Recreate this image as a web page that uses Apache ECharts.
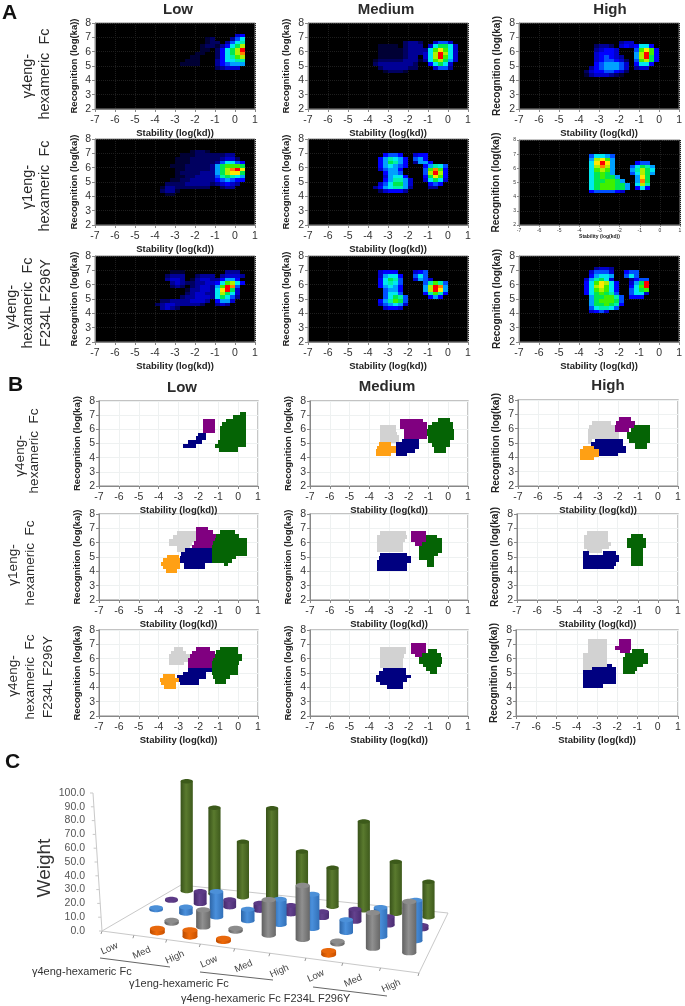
<!DOCTYPE html>
<html><head><meta charset="utf-8">
<style>html,body{margin:0;padding:0;background:#fff}#c{width:685px;height:1006px;filter:blur(0.45px)}</style>
<script src="https://cdn.jsdelivr.net/npm/echarts@6/dist/echarts.min.js"></script>
</head><body><div id="c"></div>
<script>
// ---------- tick labels / names ----------
const stabilityTicks = [-7,-6,-5,-4,-3,-2,-1,0,1];
const recognitionTicks = [2,3,4,5,6,7,8];
const stabilityName = 'Stability (log(kd))';
const recognitionName = 'Recognition (log(ka))';
const weightTicks = [0,10,20,30,40,50,60,70,80,90,100];
const doseCategories = ['Low','Med','High','Low','Med','High','Low','Med','High'];

// ---------- panel A: density cells, 0.25 x 0.25 log units: [lower y, first x, levels 0-f] ----------
const densityG4Low = [
[7,0,'45'],[6.75,-.25,'368'],[6.5,-.5,'3689'],[6.25,-.75,'358ac'],[6,-1,'258acf'],[5.75,-1,'258ace'],[5.5,-1,'2589bc'],[5.25,-1,'358899'],[5,-1,'356777'],[4.75,-1,'23444'],
[6.75,-1.5,'12'],[6.5,-1.5,'122'],[6.25,-1.75,'1221'],[6,-1.75,'11'],[5.75,-2,'11'],[5.5,-2.25,'11'],[5.25,-2.5,'111'],[5,-2.75,'1111']];
const densityG4Med = [
[6.5,-.75,'4664'],[6.25,-1,'48aa84'],[6,-1.25,'38bdb84'],[5.75,-1.25,'48cfc84'],[5.5,-1.25,'48cfb84'],[5.25,-1.25,'38bca74'],[5,-1,'58a84'],[4.75,-.75,'4663'],
[6.5,-2.25,'2332'],[6.25,-3.5,'1111'],[6.25,-2.25,'2333'],[6,-3.5,'111112333'],[5.75,-3.5,'111112333'],[5.5,-3.5,'11111233'],[5.25,-3.75,'1222223331'],[5,-3.75,'233333332'],[4.75,-3.5,'23333322'],[4.5,-3.25,'12221']];
const densityG4High = [
[6.5,-2,'344'],[6.25,-3.25,'2332'],[6.25,-2,'454'],[6.25,-1.25,'5885'],[6,-1.25,'6bdb5'],[5.75,-1.25,'7cfb5'],[5.5,-1.25,'7cfa5'],[5.25,-1.25,'6bca5'],[5,-1.25,'5885'],[4.75,-1.25,'344'],
[6,-3.25,'34554'],[5.75,-3.25,'45554'],[5.5,-3.25,'456543'],[5.25,-3.25,'4566542'],[5,-3.25,'5677764'],[4.75,-3.5,'35677764'],[4.5,-3.75,'245566542'],[4.25,-3.75,'13444321']];
const densityG1Low = [
[6.75,-.75,'233'],[6.5,-1,'23442'],[6.25,-1,'368865'],[6,-1.25,'37abbba'],[5.75,-1.25,'37acefd'],[5.5,-1.25,'37acdda'],[5.25,-1.25,'369a987'],[5,-1.25,'3567655'],[4.75,-1,'34543'],[4.5,-.75,'233'],
[7,-2.25,'1221'],[6.75,-2.75,'11122222'],[6.5,-3,'11122222'],[6.25,-3,'11122222'],[6,-3.25,'11122222'],[5.75,-3,'1122222'],[5.5,-3,'1222233'],[5.25,-3,'1122333'],[5,-3.25,'11223333'],[4.75,-3.5,'2222333332'],[4.5,-3.75,'1332222222'],[4.25,-3.75,'2331'],[4,-3.5,'11']];
const densityG1Med = [
[6.75,-3.25,'5665'],[6.5,-3.5,'579875'],[6.25,-3.5,'57a975'],[6,-3.5,'578765'],[5.75,-3.5,'46775'],[5.5,-3.25,'5776'],[5.25,-3.25,'47885'],[5,-3.25,'579974'],[4.75,-3.5,'468aa74'],[4.5,-3.75,'35789973'],[4.25,-3.5,'245553'],
[6.75,-1.75,'455'],[6.5,-1.75,'675'],[6.25,-1.75,'3775'],[6,-1.25,'57986'],[5.75,-1.25,'6beb5'],[5.5,-1.25,'6cfc5'],[5.25,-1.25,'5adb5'],[5,-1.25,'48a84'],[4.75,-1,'565'],[4.5,-1,'33']];
const densityG1High = [
[6.75,-3.5,'68876'],[6.5,-3.5,'7cdb7'],[6.25,-3.5,'8dfd7'],[6,-3.5,'8cec7'],[5.75,-3.5,'8bcb7'],[5.5,-3.5,'8aba7'],[5.25,-3.5,'8abaa7'],[5,-3.5,'8aabba7'],[4.75,-3.5,'8abbbaa7'],[4.5,-3.5,'8abbbaa7'],[4.25,-3.5,'5666654'],
[6.25,-1.25,'566'],[6,-1.5,'68a97'],[5.75,-1.5,'79ca8'],[5.5,-1.5,'68ca7'],[5.25,-1.25,'7da'],[5,-1.25,'7ea'],[4.75,-1.25,'8c9'],[4.5,-1.25,'585']];
const densityF234Low = [
[6.75,-.5,'333'],[6.5,-.75,'34443'],[6.25,-1,'25775'],[6,-1,'58bc85'],[5.75,-1.25,'37bfe6'],[5.5,-1.25,'48dfa4'],[5.25,-1.25,'48ca84'],[5,-1.25,'48a863'],[4.75,-1,'5774'],[4.5,-1,'343'],
[6.75,-3.25,'111'],[6.5,-3.5,'2333'],[6.5,-2,'2333'],[6.25,-3.5,'3443'],[6.25,-2.25,'134433'],[6,-3.25,'3432'],[6,-2.25,'23344'],[5.75,-3.25,'232'],[5.75,-2.25,'23443'],[5.5,-2.5,'133443'],[5.25,-2.5,'234433'],[5,-2.75,'2334443'],[4.75,-3.75,'2233334443'],[4.5,-4,'2344333332'],[4.25,-3.75,'3432']];
const densityF234Med = [
[6.75,-3.5,'4555'],[6.5,-3.5,'47885'],[6.25,-3.5,'58a96'],[6,-3.5,'58986'],[5.75,-3.5,'57875'],[5.5,-3.25,'6775'],[5.25,-3.25,'6886'],[5,-3.25,'68a96'],[4.75,-3.5,'579ba6'],[4.5,-3.5,'467874'],[4.25,-3.25,'4554'],
[6.75,-1.75,'456'],[6.5,-1.75,'686'],[6.25,-1.75,'4764'],[6,-1.25,'69b96'],[5.75,-1.25,'7cfe7'],[5.5,-1.25,'7cfd7'],[5.25,-1.25,'59b95'],[5,-1,'575']];
const densityF234High = [
[7,-3.25,'3443'],[6.75,-3.5,'46664'],[6.5,-3.5,'57887'],[6.25,-3.75,'479a84'],[6,-3.75,'58bdc85'],[5.75,-3.75,'58cdb85'],[5.5,-3.75,'58bcb85'],[5.25,-3.75,'58aba96'],[5,-3.5,'7aabb96'],[4.75,-3.5,'7abbba6'],[4.5,-3.5,'7aaba95'],[4.25,-3.5,'689986'],[4,-3.5,'4564'],
[6.75,-1.75,'566'],[6.5,-1.75,'686'],[6.25,-1.5,'3566'],[6,-1.5,'47af'],[5.75,-1.5,'58bf'],[5.5,-1.5,'68ab'],[5.25,-1.5,'6884'],[5,-1.5,'555']];

// ---------- panel B: cluster runs: [lower y, x from, x to, cluster] ----------
const GREY=0, PURPLE=1, NAVY=2, ORANGE=3, GREEN=4;
const clustersG4Low = [
[5.75,-1.75,-1.15,PURPLE],[6,-1.75,-1.15,PURPLE],[6.25,-1.75,-1.15,PURPLE],[6.5,-1.75,-1.15,PURPLE],
[5.5,-2,-1.6,NAVY],[5.25,-2.1,-1.6,NAVY],[5,-2.5,-1.8,NAVY],[4.7,-2.75,-2.1,NAVY],
[7,.1,.4,GREEN],[6.75,-.27,.4,GREEN],[6.5,-.6,.4,GREEN],[6.25,-.8,.4,GREEN],[6,-.93,.4,GREEN],[5.75,-.93,.4,GREEN],[5.5,-.93,.4,GREEN],[5.25,-.93,.4,GREEN],[5,-1,.4,GREEN],[4.75,-1.18,.4,GREEN],[4.65,-1.18,-.02,GREEN],[4.4,-.97,-.02,GREEN]];
const clustersG4Med = [
[6.07,-3.47,-2.67,GREY],[5.82,-3.47,-2.67,GREY],[5.57,-3.47,-2.6,GREY],[5.32,-3.47,-2.47,GREY],[5.07,-3.47,-2.5,GREY],
[6.5,-2.45,-1.3,PURPLE],[6.25,-2.45,-1.1,PURPLE],[6,-2.45,-1.1,PURPLE],[5.75,-2.25,-1.1,PURPLE],[5.5,-2.25,-1.1,PURPLE],[5.33,-2.25,-1.1,PURPLE],
[5.08,-2.33,-1.5,NAVY],[4.83,-2.67,-1.5,NAVY],[4.58,-2.83,-1.5,NAVY],[4.33,-2.67,-1.67,NAVY],[4.1,-2.67,-2.08,NAVY],
[4.83,-3.5,-2.9,ORANGE],[4.58,-3.6,-2.67,ORANGE],[4.33,-3.67,-2.67,ORANGE],[4.1,-3.67,-2.9,ORANGE],
[6.53,-.5,.08,GREEN],[6.28,-.83,.25,GREEN],[6.03,-1.05,.25,GREEN],[5.78,-1.08,.28,GREEN],[5.53,-1.08,.28,GREEN],[5.28,-1.05,.28,GREEN],[5.03,-1.05,.08,GREEN],[4.78,-.83,.08,GREEN],[4.53,-.7,-.12,GREEN],[4.33,-.7,-.12,GREEN]];
const clustersG4High = [
[6.25,-3.3,-2.35,GREY],[6,-3.43,-2.14,GREY],[5.75,-3.52,-2,GREY],[5.5,-3.52,-1.97,GREY],[5.25,-3.52,-1.97,GREY],[5,-3.52,-3.3,GREY],[4.9,-3.52,-3.3,GREY],
[6.53,-1.94,-1.36,PURPLE],[6.28,-2.1,-1.16,PURPLE],[6.03,-2.14,-1.16,PURPLE],[5.8,-2.14,-1.44,PURPLE],
[5.05,-3.14,-1.77,NAVY],[4.8,-3.35,-1.77,NAVY],[4.55,-3.2,-1.6,NAVY],[4.3,-2.97,-1.6,NAVY],[4.1,-2.93,-2,NAVY],
[4.55,-3.77,-3.2,ORANGE],[4.3,-3.88,-2.97,ORANGE],[4.05,-3.9,-2.97,ORANGE],[3.82,-3.9,-3.2,ORANGE],
[6.02,-1.2,-.4,GREEN],[5.77,-1.37,-.4,GREEN],[5.52,-1.53,-.4,GREEN],[5.27,-1.57,-.4,GREEN],[5.02,-1.45,-.4,GREEN],[4.77,-1.16,-.53,GREEN],[4.56,-1.16,-.53,GREEN]];
const clustersG1Low = [
[6.53,-3.1,-2.1,GREY],[6.28,-3.28,-2.1,GREY],[6.03,-3.48,-2.1,GREY],[5.78,-3.48,-2.3,GREY],[5.53,-3.1,-2.4,GREY],[5.38,-3.1,-2.4,GREY],
[6.85,-2.1,-1.5,PURPLE],[6.6,-2.1,-1.25,PURPLE],[6.35,-2.1,-.93,PURPLE],[6.1,-2.1,-1.1,PURPLE],[5.85,-2.2,-1.2,PURPLE],[5.6,-2.3,-1.25,PURPLE],
[5.35,-2.65,-1.3,NAVY],[5.1,-2.85,-1.3,NAVY],[4.85,-2.9,-1.3,NAVY],[4.6,-2.9,-1.3,NAVY],[4.35,-2.7,-1.68,NAVY],[4.15,-2.7,-1.68,NAVY],
[4.9,-3.6,-2.95,ORANGE],[4.65,-3.76,-2.9,ORANGE],[4.4,-3.86,-2.9,ORANGE],[4.15,-3.76,-2.9,ORANGE],[3.9,-3.65,-3.1,ORANGE],
[6.6,-.9,-.17,GREEN],[6.35,-1.1,.05,GREEN],[6.1,-1.18,.47,GREEN],[5.85,-1.26,.47,GREEN],[5.6,-1.3,.47,GREEN],[5.35,-1.3,.47,GREEN],[5.1,-1.3,.47,GREEN],[4.85,-1.3,-.12,GREEN],[4.6,-1.3,-.33,GREEN],[4.35,-.72,-.5,GREEN]];
const clustersG1Med = [
[6.53,-3.45,-2.12,GREY],[6.28,-3.63,-2.1,GREY],[6.03,-3.63,-2.2,GREY],[5.78,-3.63,-2.28,GREY],[5.53,-3.63,-2.28,GREY],[5.33,-3.63,-2.28,GREY],
[6.55,-1.88,-1.12,PURPLE],[6.3,-1.88,-1.12,PURPLE],[6.05,-1.88,-1.12,PURPLE],[5.8,-1.67,-1.33,PURPLE],
[5.05,-3.45,-2.1,NAVY],[4.8,-3.5,-1.88,NAVY],[4.55,-3.63,-1.88,NAVY],[4.3,-3.63,-2.1,NAVY],[4.05,-3.63,-2.1,NAVY],
[6.3,-1.12,-.55,GREEN],[6.05,-1.12,-.32,GREEN],[5.8,-1.33,-.32,GREEN],[5.55,-1.5,-.32,GREEN],[5.3,-1.47,-.32,GREEN],[5.05,-1.47,-.5,GREEN],[4.8,-1.47,-.72,GREEN],[4.55,-1.08,-.72,GREEN],[4.3,-1.08,-.72,GREEN]];
const clustersG1High = [
[6.55,-3.5,-2.5,GREY],[6.3,-3.68,-2.5,GREY],[6.05,-3.68,-2.5,GREY],[5.8,-3.68,-2.32,GREY],[5.55,-3.68,-2.43,GREY],[5.3,-3.5,-2.77,GREY],
[5.15,-3.7,-3.4,NAVY],[5.15,-2.75,-2.1,NAVY],[4.9,-3.7,-1.95,NAVY],[4.65,-3.7,-1.95,NAVY],[4.4,-3.7,-2.1,NAVY],[4.15,-3.7,-2.2,NAVY],
[6.35,-1.33,-.73,GREEN],[6.1,-1.53,-.57,GREEN],[5.85,-1.53,-.57,GREEN],[5.6,-1.53,-.57,GREEN],[5.35,-1.33,-.73,GREEN],[5.1,-1.33,-.73,GREEN],[4.85,-1.33,-.73,GREEN],[4.6,-1.33,-.73,GREEN],[4.4,-1.33,-.73,GREEN]];
const clustersF234Low = [
[6.55,-3.24,-2.77,GREY],[6.3,-3.4,-2.6,GREY],[6.05,-3.5,-2.3,GREY],[5.8,-3.5,-2.5,GREY],[5.55,-3.5,-2.7,GREY],
[6.55,-2.13,-1.4,PURPLE],[6.3,-2.3,-1.18,PURPLE],[6.05,-2.43,-1.1,PURPLE],[5.8,-2.5,-1.1,PURPLE],[5.55,-2.5,-1.26,PURPLE],[5.3,-2.5,-1.33,PURPLE],
[5.1,-2.5,-1.33,NAVY],[4.85,-2.77,-1.6,NAVY],[4.6,-3.1,-1.6,NAVY],[4.35,-3.1,-1.97,NAVY],[4.15,-2.9,-1.97,NAVY],
[4.65,-3.78,-3.2,ORANGE],[4.4,-3.95,-2.95,ORANGE],[4.15,-3.9,-3.15,ORANGE],[3.9,-3.75,-3.14,ORANGE],
[6.58,-.93,0,GREEN],[6.33,-1.1,0,GREEN],[6.08,-1.18,.2,GREEN],[5.83,-1.26,.2,GREEN],[5.58,-1.3,.05,GREEN],[5.33,-1.3,0,GREEN],[5.08,-1.33,0,GREEN],[4.83,-1.33,0,GREEN],[4.58,-1.26,-.4,GREEN],[4.33,-1.18,-.6,GREEN],[4.2,-1.18,-.6,GREEN]];
const clustersF234Med = [
[6.58,-3.47,-2.13,GREY],[6.33,-3.47,-2.13,GREY],[6.08,-3.47,-2.25,GREY],[5.83,-3.47,-2.3,GREY],[5.58,-3.47,-2.3,GREY],[5.38,-3.47,-2.3,GREY],
[6.85,-1.88,-1.15,PURPLE],[6.6,-1.88,-1.15,PURPLE],[6.35,-1.88,-1.15,PURPLE],[6.13,-1.67,-1.33,PURPLE],
[5.13,-3.28,-2.13,NAVY],[4.88,-3.5,-2.12,NAVY],[4.63,-3.67,-1.9,NAVY],[4.38,-3.67,-2.08,NAVY],[4.13,-3.45,-2.28,NAVY],[3.9,-3.1,-2.3,NAVY],
[6.4,-1.05,-.58,GREEN],[6.15,-1.33,-.37,GREEN],[5.9,-1.5,-.33,GREEN],[5.65,-1.5,-.33,GREEN],[5.4,-1.28,-.37,GREEN],[5.15,-1.12,-.55,GREEN],[4.9,-.92,-.58,GREEN]];
const clustersF234High = [
[7.12,-3.43,-2.5,GREY],[6.87,-3.43,-2.5,GREY],[6.62,-3.43,-2.5,GREY],[6.37,-3.43,-2.5,GREY],[6.12,-3.68,-2.5,GREY],[5.87,-3.68,-2.5,GREY],[5.62,-3.68,-2.5,GREY],[5.37,-3.68,-2.5,GREY],[5.2,-3.68,-2.5,GREY],
[7.12,-1.9,-1.3,PURPLE],[6.87,-1.9,-1.3,PURPLE],[6.62,-2.1,-1.3,PURPLE],[6.37,-1.86,-1.36,PURPLE],
[5.41,-2.53,-2.27,NAVY],[5.16,-3.27,-2.06,NAVY],[4.95,-3.68,-2.06,NAVY],[4.7,-3.68,-2.06,NAVY],[4.45,-3.68,-2.06,NAVY],[4.2,-3.68,-2.06,NAVY],[3.95,-3.68,-2.7,NAVY],
[6.4,-1.28,-.7,GREEN],[6.15,-1.6,-.5,GREEN],[5.9,-1.7,-.5,GREEN],[5.65,-1.7,-.5,GREEN],[5.4,-1.7,-.73,GREEN],[5.15,-1.7,-1.03,GREEN],[4.9,-1.7,-1.1,GREEN]];

// ---------- panel C: weights, one value per dose category (0 = no cylinder) ----------
const weightOrange = [0,3,5,2,0,0,3,0,0];
const weightGrey   = [0,2,13,2,27,41,2,27,39];
const weightBlue   = [1.5,5,20,9,20,27,10,23,32];
const weightPurple = [1,10,6,6,7,5,10,7,3];
const weightGreen  = [93,73,47,78,44,33,75,44,30];

// ---------- styling ----------
const FONT = '"Liberation Sans", Arial, sans-serif';
const densityPalette = ['#000','#000034','#000060','#000096','#0000cc','#0000ff','#0050ff','#00a0ff','#00e8f0','#00f0a8','#00e850','#40f000','#b0f000','#ffe800','#ff8000','#ff0000'];
const clusterPalette = ['#d2d2d2','#800080','#000080','#ffa014','#056405'];
const cylinderPalette = {
  orange:{side:['#b84a00','#f06a08','#c85000'],top:'#e8680c'},
  grey:{side:['#606060','#909090','#686868'],top:'#8c8c8c'},
  blue:{side:['#2d66a8','#4a90dc','#3270b8'],top:'#4c90d8'},
  purple:{side:['#44286a','#64428e','#4a2c72'],top:'#5c3a86'},
  green:{side:['#38521a','#5a7a2e','#3e5a1c'],top:'#3c5a1a'}
};
// Panel rectangles: [left, right, top, bottom]
const panelRects = [
 [95,255,23,109],[308,468,23,109],[519,680,23,109],
 [95,255,139,225],[308,468,139,225],[519,680,140,225],
 [95,255,256,342],[308,468,256,342],[519,680,256,342],
 [99,258,401,486],[310,468,401,486],[518,678,400,486],
 [99,258,514,600],[310,468,514,600],[517,678,514,600],
 [99,258,630,716],[310,468,630,716],[516,678,630,716]
];
const densityPanels = [densityG4Low,densityG4Med,densityG4High,densityG1Low,densityG1Med,densityG1High,densityF234Low,densityF234Med,densityF234High];
const clusterPanels = [clustersG4Low,clustersG4Med,clustersG4High,clustersG1Low,clustersG1Med,clustersG1High,clustersF234Low,clustersF234Med,clustersF234High];

const CELL = 0.25;
function expandDensity(triples){
  const out=[];
  triples.forEach(([y,x,s])=>{
    for(let i=0;i<s.length;i++){
      const lv=parseInt(s[i],16);
      if(lv>0) out.push([x+i*CELL,x+(i+1)*CELL,y,lv]);
    }
  });
  return out;
}
function cellRender(isDensity){
  return function(params,api){
    const x0=api.value(0),x1=api.value(1),y=api.value(2),k=api.value(3);
    const a=api.coord([x0,y+CELL]),b=api.coord([x1,y]);
    const l=Math.round(a[0]),t=Math.round(a[1]),r=Math.round(b[0]),bt=Math.round(b[1]);
    return {type:'rect',shape:{x:l,y:t,width:r-l,height:bt-t},
      style:{fill:(isDensity?densityPalette:clusterPalette)[k]}};
  };
}

const grids=[],xAxes=[],yAxes=[],series=[];
panelRects.forEach((r,i)=>{
  const dark=i<9, tiny=i===5;
  const fs=tiny?5:10.5;
  const nameFs=tiny?5:9.5;
  grids.push({left:r[0],top:r[2],width:r[1]-r[0],height:r[3]-r[2],show:true,
    backgroundColor:dark?'#000':'#fff',borderColor:dark?'#888':'#b0b0b0',borderWidth:dark?1:1.4});
  const line={show:true,lineStyle:{color:'#888',width:1}};
  xAxes.push({type:'value',gridIndex:i,min:stabilityTicks[0],max:stabilityTicks[stabilityTicks.length-1],interval:1,
    name:stabilityName,nameLocation:'middle',nameGap:tiny?8:19,
    nameTextStyle:{fontFamily:FONT,fontWeight:'bold',fontSize:nameFs,color:'#222'},
    axisLine:{...line,onZero:false},axisTick:{show:true,length:tiny?2:3,lineStyle:{color:'#888'}},
    axisLabel:{fontFamily:FONT,fontSize:fs,color:'#333',margin:tiny?3:6,showMinLabel:true,showMaxLabel:true},
    splitLine:{show:true,lineStyle:{color:dark?'#1e1e1e':'#eef1f1',type:dark?'dotted':'solid',width:1}}});
  yAxes.push({type:'value',gridIndex:i,min:recognitionTicks[0],max:recognitionTicks[recognitionTicks.length-1],interval:1,
    name:recognitionName,nameLocation:'middle',nameGap:tiny?18:(i%3===0&&i<9?16:17),
    nameTextStyle:{fontFamily:FONT,fontWeight:'bold',fontSize:i%3===2?10:9.5,color:'#222'},
    axisLine:{...line,onZero:false},axisTick:{show:true,length:tiny?2:3,lineStyle:{color:'#888'}},
    axisLabel:{fontFamily:FONT,fontSize:tiny?5:10.5,color:'#333',margin:tiny?3:4,showMinLabel:true,showMaxLabel:true},
    splitLine:{show:true,lineStyle:{color:dark?'#1e1e1e':'#eef1f1',type:dark?'dotted':'solid',width:1}}});
  series.push({type:'custom',xAxisIndex:i,yAxisIndex:i,clip:true,silent:true,
    encode:{x:[0,1],y:2},
    data:dark?expandDensity(densityPanels[i]):clusterPanels[i-9].map(a=>[a[1],a[2],a[0],a[3]]),
    renderItem:cellRender(dark)});
});

// ---------- panel C projection ----------
const C_GRID = panelRects.length;
const groundFrontLeft=[102,931], groundBackLeft=[181,885], groundBackRight=[448,913], groundFrontRight=[419,973];
const lerp=(a,b,t)=>[a[0]+(b[0]-a[0])*t,a[1]+(b[1]-a[1])*t];
const foreshorten=u=>u-0.105*u*(1-u);
function ground(u,d){const w=foreshorten(u);return lerp(lerp(groundFrontLeft,groundFrontRight,w),lerp(groundBackLeft,groundBackRight,w),d);}
const perspective=d=>1-0.16*d;
grids.push({left:93,top:793,width:355,height:138,show:false});
xAxes.push({type:'category',gridIndex:C_GRID,data:doseCategories,show:false});
yAxes.push({type:'value',gridIndex:C_GRID,min:weightTicks[0],max:weightTicks[weightTicks.length-1],interval:10,
  axisLine:{show:false},axisTick:{show:false},splitLine:{show:false},
  axisLabel:{fontFamily:FONT,fontSize:10.5,color:'#555',margin:8,formatter:v=>v.toFixed(1)}});
function cylinderSeries(values,style,d){
  const rx=7.6*(1-0.22*d), ry=2.9*(1-0.25*d);
  const sideFill=new echarts.graphic.LinearGradient(0,0,1,0,[{offset:0,color:style.side[0]},{offset:.45,color:style.side[1]},{offset:1,color:style.side[2]}]);
  return {type:'custom',xAxisIndex:C_GRID,yAxisIndex:C_GRID,clip:false,silent:true,
    encode:{x:0,y:1},
    data:values.map((v,i)=>[i,v]).filter(p=>p[1]>0),
    renderItem(params,api){
      const i=api.value(0),v=api.value(1);
      const base=ground((i+.5)/values.length,d);
      const h=api.size([1,v])[1]*perspective(d);
      const top=base[1]-h;
      return {type:'group',children:[
        {type:'ellipse',shape:{cx:base[0],cy:base[1],rx,ry},style:{fill:sideFill}},
        {type:'rect',shape:{x:base[0]-rx,y:top,width:2*rx,height:h},style:{fill:sideFill}},
        {type:'ellipse',shape:{cx:base[0],cy:top,rx,ry},style:{fill:style.top}}
      ]};
    }};
}
series.push(cylinderSeries(weightGreen,cylinderPalette.green,.9));
series.push(cylinderSeries(weightPurple,cylinderPalette.purple,.7));
series.push(cylinderSeries(weightBlue,cylinderPalette.blue,.5));
series.push(cylinderSeries(weightGrey,cylinderPalette.grey,.3));
series.push(cylinderSeries(weightOrange,cylinderPalette.orange,.1));
// dose tick labels along the front edge
series.push({type:'custom',xAxisIndex:C_GRID,yAxisIndex:C_GRID,clip:false,silent:true,encode:{x:0,y:1},
  data:doseCategories.map((c,i)=>[i,0]),
  renderItem(params,api){
    const i=api.value(0);
    const p=ground((i+.5)/doseCategories.length,0);
    return {type:'text',x:p[0]-8.5,y:p[1]+15.5,rotation:0.42,
      style:{text:doseCategories[i],font:'9.5px '+FONT,fill:'#444',align:'center',verticalAlign:'middle',textAlign:'center',textVerticalAlign:'middle'}};
  }});

// ---------- static text and ground lines ----------
function txt(text,x,y,size,opt){
  opt=opt||{};
  return {type:'text',x,y,rotation:opt.rot||0,silent:true,
    style:{text,fill:opt.color||'#2b2b2b',font:(opt.weight?opt.weight+' ':'')+size+'px '+FONT,
      align:opt.align||'center',verticalAlign:'middle',textAlign:opt.align||'center',textVerticalAlign:'middle'}};
}
const R=Math.PI/2;
const gfx=[
 txt('A',2,13,21,{weight:'bold',align:'left',color:'#111'}),
 txt('B',8,385,21,{weight:'bold',align:'left',color:'#111'}),
 txt('C',5,762,21,{weight:'bold',align:'left',color:'#111'}),
 txt('Low',178,10,15,{weight:'bold'}),txt('Medium',386,10,15,{weight:'bold'}),txt('High',610,10,15,{weight:'bold'}),
 txt('Low',182,388,15,{weight:'bold'}),txt('Medium',387,387,15,{weight:'bold'}),txt('High',608,386,15,{weight:'bold'}),
 // row labels
 txt('γ4eng-',28,76,14.5,{rot:R}),txt('hexameric  Fc',45,74,14.5,{rot:R}),
 txt('γ1eng-',28,187,14.5,{rot:R}),txt('hexameric  Fc',45,186,14.5,{rot:R}),
 txt('γ4eng-',12,307,14.5,{rot:R}),txt('hexameric  Fc',28,303,14.5,{rot:R}),txt('F234L F296Y',46,303,14.5,{rot:R}),
 txt('γ4eng-',20,456,13.5,{rot:R}),txt('hexameric  Fc',34,451,13.5,{rot:R}),
 txt('γ1eng-',13,565,13.5,{rot:R}),txt('hexameric  Fc',30,563,13.5,{rot:R}),
 txt('γ4eng-',13,676,13.5,{rot:R}),txt('hexameric  Fc',30,677,13.5,{rot:R}),txt('F234L F296Y',48,677,13.5,{rot:R}),
 // panel C
 txt('Weight',45,868,19,{rot:R,color:'#333'}),
 txt('γ4eng-hexameric Fc',32,972,11,{align:'left',color:'#333'}),
 txt('γ1eng-hexameric Fc',129,984,11,{align:'left',color:'#333'}),
 txt('γ4eng-hexameric Fc F234L F296Y',181,999,11,{align:'left',color:'#333'})
];
function seg(a,b,color,w){return {type:'line',silent:true,z:-1,shape:{x1:a[0],y1:a[1],x2:b[0],y2:b[1]},style:{stroke:color,lineWidth:w||1}};}
const gl='#c9c9c9';
gfx.push(seg(groundFrontLeft,groundBackLeft,gl),seg(groundBackLeft,groundBackRight,gl),seg(groundBackRight,groundFrontRight,gl),seg(groundFrontRight,groundFrontLeft,gl));
gfx.push(seg(groundFrontLeft,[93,793],gl));
for(let i=0;i<=doseCategories.length;i++){const p=ground(i/doseCategories.length,0);gfx.push(seg(p,[p[0]-1,p[1]+3],'#999'));}
for(let v=0;v<=10;v++){const p=lerp(groundFrontLeft,[93,793],v/10);gfx.push(seg(p,[p[0]-3,p[1]],gl));}
gfx.push(seg([100,958],[170,967],'#666'),seg([200,972],[273,980],'#666'),seg([313,987],[387,996],'#666'));

const chart=echarts.init(document.getElementById('c'),null,{renderer:'canvas'});
chart.setOption({animation:false,backgroundColor:'#fff',tooltip:{show:false},grid:grids,xAxis:xAxes,yAxis:yAxes,series,graphic:{elements:gfx}});
</script></body></html>
